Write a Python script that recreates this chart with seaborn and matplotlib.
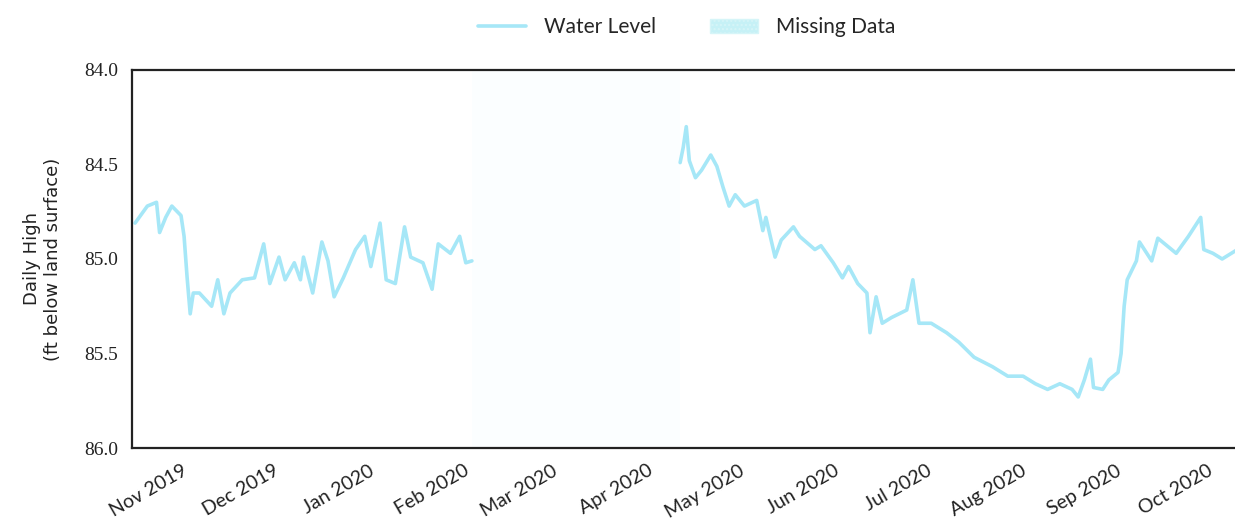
import matplotlib
matplotlib.use("Agg")
import matplotlib.pyplot as plt
import matplotlib.dates as mdates
from matplotlib.patches import Patch
from matplotlib.lines import Line2D
import seaborn as sns
import pandas as pd

# daily high water level (ft below land surface)
dates_fall = ["2019-10-14", "2019-10-18", "2019-10-21", "2019-10-22", "2019-10-24",
              "2019-10-26", "2019-10-29", "2019-10-30", "2019-10-31", "2019-11-01",
              "2019-11-02", "2019-11-04", "2019-11-08", "2019-11-10", "2019-11-12",
              "2019-11-14", "2019-11-18", "2019-11-22", "2019-11-25", "2019-11-27",
              "2019-11-30", "2019-12-02", "2019-12-05", "2019-12-07", "2019-12-08",
              "2019-12-11", "2019-12-14", "2019-12-16", "2019-12-18", "2019-12-21",
              "2019-12-25", "2019-12-28", "2019-12-30", "2020-01-02", "2020-01-04",
              "2020-01-07", "2020-01-10", "2020-01-12", "2020-01-16", "2020-01-19",
              "2020-01-21", "2020-01-25", "2020-01-28", "2020-01-30", "2020-02-01"]
levels_fall = [84.81, 84.72, 84.70, 84.86, 84.78,
               84.72, 84.77, 84.88, 85.10, 85.29,
               85.18, 85.18, 85.25, 85.11, 85.29,
               85.18, 85.11, 85.10, 84.92, 85.13,
               84.99, 85.11, 85.02, 85.11, 84.99,
               85.18, 84.91, 85.01, 85.20, 85.10,
               84.95, 84.88, 85.04, 84.81, 85.11,
               85.13, 84.83, 84.99, 85.02, 85.16,
               84.92, 84.97, 84.88, 85.02, 85.01]

dates_spring = ["2020-04-09", "2020-04-10", "2020-04-11", "2020-04-12", "2020-04-14",
                "2020-04-16", "2020-04-19", "2020-04-21", "2020-04-23", "2020-04-25",
                "2020-04-27", "2020-04-30", "2020-05-04", "2020-05-06", "2020-05-07",
                "2020-05-10", "2020-05-12", "2020-05-16", "2020-05-18", "2020-05-23",
                "2020-05-25", "2020-05-29", "2020-06-01", "2020-06-03", "2020-06-06",
                "2020-06-09", "2020-06-10", "2020-06-12", "2020-06-14", "2020-06-17",
                "2020-06-22", "2020-06-24", "2020-06-26", "2020-06-30", "2020-07-05",
                "2020-07-09", "2020-07-14", "2020-07-20", "2020-07-25", "2020-07-30",
                "2020-08-03", "2020-08-07", "2020-08-11", "2020-08-15", "2020-08-17",
                "2020-08-19", "2020-08-21", "2020-08-22", "2020-08-25", "2020-08-27",
                "2020-08-30", "2020-08-31", "2020-09-01", "2020-09-02", "2020-09-05",
                "2020-09-06", "2020-09-10", "2020-09-12", "2020-09-15", "2020-09-18",
                "2020-09-22", "2020-09-26", "2020-09-27", "2020-09-30", "2020-10-03",
                "2020-10-08"]
levels_spring = [84.49, 84.41, 84.30, 84.48, 84.57,
                 84.53, 84.45, 84.51, 84.62, 84.72,
                 84.66, 84.72, 84.69, 84.85, 84.78,
                 84.99, 84.90, 84.83, 84.88, 84.95,
                 84.93, 85.02, 85.10, 85.04, 85.13,
                 85.18, 85.39, 85.20, 85.34, 85.31,
                 85.27, 85.11, 85.34, 85.34, 85.39,
                 85.44, 85.52, 85.57, 85.62, 85.62,
                 85.66, 85.69, 85.66, 85.69, 85.73,
                 85.64, 85.53, 85.68, 85.69, 85.64,
                 85.60, 85.50, 85.25, 85.11, 85.01,
                 84.91, 85.01, 84.89, 84.93, 84.97,
                 84.88, 84.78, 84.95, 84.97, 85.00,
                 84.95]

ytick_vals = [84.0, 84.5, 85.0, 85.5, 86.0]

df = pd.DataFrame({
    "date": pd.to_datetime(dates_fall + dates_spring),
    "level": levels_fall + levels_spring,
    "segment": ["fall"] * len(dates_fall) + ["spring"] * len(dates_spring),
})

line_color = "#a6e7f7"
gap_color = "#c6f1f6"

sns.set_style("white")
plt.rcParams["font.family"] = ["Lato", "DejaVu Sans"]

fig = plt.figure(figsize=(12.35, 5.23), dpi=100)
ax = fig.add_axes([0.1069, 0.1434, 0.905, 0.7228])

# gap with no readings - barely visible in the original
gap_start = df.loc[df.segment == "fall", "date"].max()
gap_end = df.loc[df.segment == "spring", "date"].min()
ax.axvspan(gap_start, gap_end, facecolor="#fbfeff", lw=0, zorder=0)

sns.lineplot(data=df, x="date", y="level", units="segment", estimator=None,
             color=line_color, lw=2.6, ax=ax)

ax.set_xlim(pd.Timestamp("2019-10-13"), pd.Timestamp("2020-10-12"))
ax.set_ylim(86.0, 84.0)
ax.set_yticks(ytick_vals)
ax.set_yticklabels([f"{v:.1f}" for v in ytick_vals], family="Liberation Serif",
                   fontsize=14, color="#222222")
ax.tick_params(axis="y", length=0, pad=10)

ax.xaxis.set_major_locator(mdates.MonthLocator())
ax.xaxis.set_major_formatter(mdates.DateFormatter("%b %Y"))
ax.tick_params(axis="x", length=0, pad=10)
plt.setp(ax.get_xticklabels(), rotation=30, ha="right", fontsize=14,
         color="#222222")

ax.set_xlabel("")
ax.set_ylabel("Daily High\n(ft below land surface)", family="DejaVu Sans",
              fontsize=13, color="#222222", labelpad=16)

for side in ["left", "bottom", "top"]:
    ax.spines[side].set_color("#222222")
    ax.spines[side].set_linewidth(1.6)

handles = [Line2D([], [], color=line_color, lw=2.6),
           Patch(facecolor=gap_color, edgecolor="#d6f5f8", hatch="....")]
fig.legend(handles, ["Water Level", "Missing Data"], loc="center",
           bbox_to_anchor=(0.556, 0.948), ncol=2, frameon=False, fontsize=15,
           handlelength=2.3, handletextpad=0.85, columnspacing=2.6)

fig.savefig("out.png", dpi=100)
